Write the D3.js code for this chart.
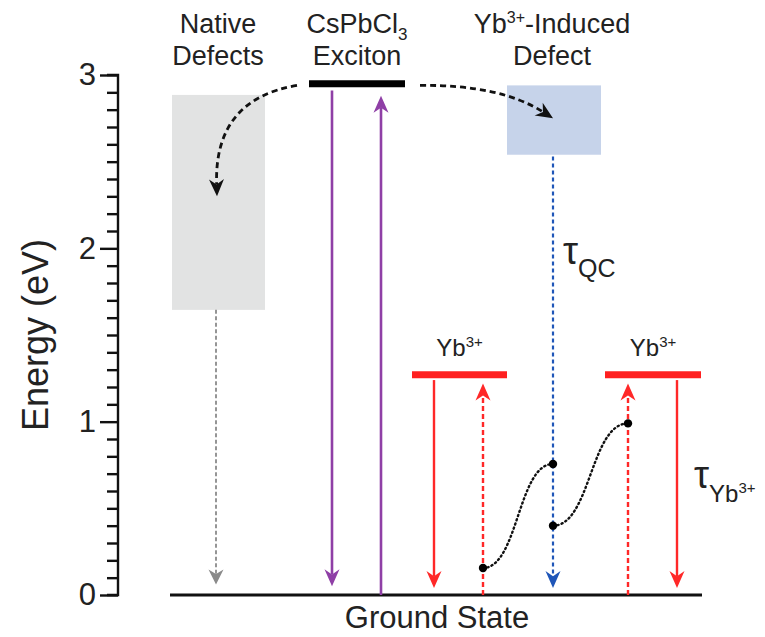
<!DOCTYPE html>
<html>
<head>
<meta charset="utf-8">
<script src="https://cdn.jsdelivr.net/npm/d3@7"></script>
<style>
  html, body { margin: 0; padding: 0; background: #fff; }
  svg { display: block; font-family: "Liberation Sans", Arial, sans-serif; }
</style>
</head>
<body>
<svg id="chart" width="765" height="637"></svg>
<script>
// ---- Energy-level diagram data (energies in eV, horizontal positions in column units) ----
const energyTicks = [0, 1, 2, 3];
const energyDomain = [0, 3];

// Shaded bands: native defect states and the Yb3+-induced defect state
const bandNames = ["native", "ybDefect"];
const bandX0 = [1.08, 7.78];
const bandX1 = [2.94, 9.66];
const bandLow = [1.645, 2.54];
const bandHigh = [2.885, 2.94];

// Sharp levels: CsPbCl3 exciton and the two Yb3+ excited states
const levelNames = ["exciton", "yb", "yb"];
const levelX0 = [3.82, 5.88, 9.74];
const levelX1 = [5.74, 7.78, 11.66];
const levelEnergy = [2.95, 1.27, 1.27];

// Vertical transitions (start energy -> arrow tip energy)
const transKinds = ["native", "excitonDown", "excitonUp", "ybDefect", "ybDown", "ybUp", "ybUp", "ybDown"];
const transX = [1.96, 4.28, 5.26, 8.70, 6.32, 7.30, 10.20, 11.18];
const transFrom = [1.645, 2.91, 0.0, 2.53, 1.24, 0.0, 0.0, 1.24];
const transTo = [0.06, 0.05, 2.88, 0.04, 0.04, 1.22, 1.22, 0.04];

// Coupling points joined by dotted wavy links (quantum cutting pathway)
const couplingX = [7.30, 8.70, 8.70, 10.20];
const couplingE = [0.156, 0.756, 0.40, 0.99];
const couplingPairs = [[0, 1], [2, 3]];

// Curved dashed transfer arrows from the exciton: start, bend, tip
const transferStart = [[3.58, 2.94], [6.04, 2.94]];
const transferBend = [[1.92, 2.86], [7.64, 2.945]];
const transferTip = [[1.98, 2.30], [8.70, 2.75]];

// Ground state span
const groundX = [1.04, 11.68];

// ---- Scales ----
const svg = d3.select("#chart");
const y = d3.scaleLinear().domain(energyDomain).range([595, 75]);
const x = d3.scaleLinear().domain([0, 12]).range([118, 718]);

const colors = {
  native: "#8a8a8a", excitonDown: "#8f3fa6", excitonUp: "#8f3fa6",
  ybDefect: "#1f56b8", ybDown: "#ff2828", ybUp: "#ff2828"
};
const dashed = { native: "4,2.5", ybDefect: "4,3", ybUp: "5,3" };
const widths = { native: 1.8, excitonDown: 2.6, excitonUp: 2.6, ybDefect: 2.2, ybDown: 2.4, ybUp: 2.4 };

// ---- Axis ----
const axis = d3.axisLeft(y)
  .tickValues(d3.range(0, 3.0001, 0.1))
  .tickSize(11)
  .tickFormat(d => {
    const r = Math.round(d * 10) / 10;
    return energyTicks.includes(r) ? d3.format("d")(r) : "";
  });
const axisG = svg.append("g").attr("transform", `translate(${x(0)},0)`).call(axis);
axisG.select(".domain").attr("d", `M-11,${y(3)}H0V${y(0)}H-11`).attr("stroke", "#111").attr("stroke-width", 2.4).attr("fill", "none");
axisG.selectAll(".tick line").attr("stroke", "#111").attr("stroke-width", 2.4)
  .attr("x2", d => energyTicks.includes(Math.round(d * 10) / 10) ? -18 : -11);
axisG.selectAll(".tick text")
  .attr("x", -22).attr("font-size", 31).attr("fill", "#222")
  .attr("font-family", "Liberation Sans, Arial, sans-serif");

svg.append("text")
  .attr("transform", `translate(48,${(y(0) + y(3)) / 2}) rotate(-90)`)
  .attr("text-anchor", "middle").attr("font-size", 36).attr("fill", "#222")
  .text("Energy (eV)");

// ---- Bands ----
const bandFill = { native: "#e2e3e3", ybDefect: "#c6d3ea" };
svg.append("g").selectAll("rect").data(bandNames).join("rect")
  .attr("x", (d, i) => x(bandX0[i]))
  .attr("y", (d, i) => y(bandHigh[i]))
  .attr("width", (d, i) => x(bandX1[i]) - x(bandX0[i]))
  .attr("height", (d, i) => y(bandLow[i]) - y(bandHigh[i]))
  .attr("fill", d => bandFill[d]);

// ---- Ground state ----
svg.append("line")
  .attr("x1", x(groundX[0])).attr("x2", x(groundX[1]))
  .attr("y1", y(0)).attr("y2", y(0))
  .attr("stroke", "#111").attr("stroke-width", 3);

// ---- Arrow helper ----
function arrowHead(g, tx, ty, angle, color, len, wid) {
  g.append("path")
    .attr("d", `M0,0L${-len},${-wid / 2}L${-len * 0.7},0L${-len},${wid / 2}Z`)
    .attr("transform", `translate(${tx},${ty}) rotate(${angle * 180 / Math.PI})`)
    .attr("fill", color);
}

// ---- Vertical transitions ----
const transG = svg.append("g");
transKinds.forEach((k, i) => {
  const px = x(transX[i]);
  const y0 = y(transFrom[i]);
  const y1 = y(transTo[i]);
  const dir = Math.sign(y1 - y0);
  const len = k === "native" ? 15 : 17;
  transG.append("line")
    .attr("x1", px).attr("x2", px)
    .attr("y1", y0).attr("y2", y1 - dir * len * 0.7)
    .attr("stroke", colors[k]).attr("stroke-width", widths[k])
    .attr("stroke-dasharray", dashed[k] || null);
  arrowHead(transG, px, y1, dir > 0 ? Math.PI / 2 : -Math.PI / 2, colors[k], len, 15);
});

// ---- Levels ----
const levelColor = { exciton: "#000", yb: "#ff2020" };
svg.append("g").selectAll("line").data(levelNames).join("line")
  .attr("x1", (d, i) => x(levelX0[i])).attr("x2", (d, i) => x(levelX1[i]))
  .attr("y1", (d, i) => y(levelEnergy[i])).attr("y2", (d, i) => y(levelEnergy[i]))
  .attr("stroke", d => levelColor[d]).attr("stroke-width", 7);

// ---- Dotted coupling links ----
const link = d3.linkHorizontal();
const linkG = svg.append("g");
couplingPairs.forEach(([a, b]) => {
  linkG.append("path")
    .attr("d", link({ source: [x(couplingX[a]), y(couplingE[a])], target: [x(couplingX[b]), y(couplingE[b])] }))
    .attr("fill", "none").attr("stroke", "#111").attr("stroke-width", 2.4)
    .attr("stroke-dasharray", "1.2,3.2").attr("stroke-linecap", "round");
});
linkG.selectAll("circle").data(couplingX).join("circle")
  .attr("cx", d => x(d)).attr("cy", (d, i) => y(couplingE[i]))
  .attr("r", 4.2).attr("fill", "#000");

// ---- Curved transfer arrows ----
const transferG = svg.append("g");
transferStart.forEach((s, i) => {
  const p0 = [x(s[0]), y(s[1])];
  const c = [x(transferBend[i][0]), y(transferBend[i][1])];
  const p1 = [x(transferTip[i][0]), y(transferTip[i][1])];
  const ang = Math.atan2(p1[1] - c[1], p1[0] - c[0]);
  const back = 17 * 0.7;
  const end = [p1[0] - back * Math.cos(ang), p1[1] - back * Math.sin(ang)];
  const path = d3.path();
  path.moveTo(p0[0], p0[1]);
  path.quadraticCurveTo(c[0], c[1], end[0], end[1]);
  transferG.append("path").attr("d", path.toString())
    .attr("fill", "none").attr("stroke", "#111").attr("stroke-width", 2.8)
    .attr("stroke-dasharray", "6,4");
  arrowHead(transferG, p1[0], p1[1], ang, "#111", 17, 15);
});

// ---- Labels ----
const labels = svg.append("g").attr("fill", "#222").attr("text-anchor", "middle");
function twoLine(cx, first, second) {
  const t1 = labels.append("text").attr("x", cx).attr("y", 33).attr("font-size", 27);
  first(t1);
  labels.append("text").attr("x", cx).attr("y", 65).attr("font-size", 27).text(second);
}
twoLine(218, t => t.text("Native"), "Defects");
twoLine(357, t => {
  t.append("tspan").text("CsPbCl");
  t.append("tspan").attr("font-size", 17).attr("dy", 7).text("3");
}, "Exciton");
twoLine(552, t => {
  t.append("tspan").text("Yb");
  t.append("tspan").attr("font-size", 16).attr("dy", -10).text("3+");
  t.append("tspan").attr("dy", 10).text("-Induced");
}, "Defect");

function ybLabel(cx) {
  const t = labels.append("text").attr("x", cx).attr("y", 356).attr("font-size", 24);
  t.append("tspan").text("Yb");
  t.append("tspan").attr("font-size", 15).attr("dy", -9).text("3+");
}
ybLabel(x((levelX0[1] + levelX1[1]) / 2));
ybLabel(x((levelX0[2] + levelX1[2]) / 2));

// Lifetimes
const tq = labels.append("text").attr("x", 563).attr("y", 264).attr("text-anchor", "start").attr("font-size", 38);
tq.append("tspan").text("τ");
tq.append("tspan").attr("font-size", 25).attr("dy", 13).text("QC");

const ty = labels.append("text").attr("x", 694).attr("y", 488).attr("text-anchor", "start").attr("font-size", 38);
ty.append("tspan").text("τ");
ty.append("tspan").attr("font-size", 24).attr("dy", 14).text("Yb");
ty.append("tspan").attr("font-size", 15).attr("dy", -9).text("3+");

labels.append("text").attr("x", 437).attr("y", 628).attr("font-size", 31).text("Ground State");
</script>
</body>
</html>
